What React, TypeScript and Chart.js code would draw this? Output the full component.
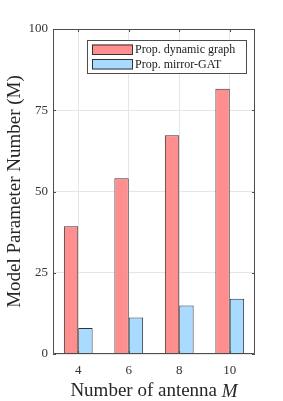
import React, { useEffect, useRef } from "react";
import { Chart, registerables } from "chart.js";

Chart.register(...registerables);

const categories = ["4", "6", "8", "10"];
const dynamicGraph = [39.3, 54.1, 67.3, 81.6];
const mirrorGAT = [8.0, 11.2, 14.9, 17.0];
const seriesLabels = ["Prop. dynamic graph", "Prop. mirror-GAT"];
const yTicks = [0, 25, 50, 75, 100];

const FONT = "'Liberation Serif', 'Times New Roman', 'DejaVu Serif', serif";
const RED = "#ff8f8f";
const BLUE = "#a9daff";
const EDGE = "#333333";
const AXIS = "#4d4d4d";

const boxPlugin = {
  id: "matlabBox",
  afterDatasetsDraw(chart: any) {
    const { ctx, chartArea: a, scales } = chart;
    ctx.save();
    ctx.strokeStyle = AXIS;
    ctx.lineWidth = 1;
    ctx.beginPath();
    ctx.rect(a.left + 0.5, a.top + 0.5, a.right - a.left - 1, a.bottom - a.top - 1);
    ctx.stroke();
    const tl = 3;
    ctx.beginPath();
    scales.y.ticks.forEach((t: any) => {
      const y = Math.round(scales.y.getPixelForValue(t.value)) + 0.5;
      ctx.moveTo(a.left, y);
      ctx.lineTo(a.left + tl, y);
      ctx.moveTo(a.right, y);
      ctx.lineTo(a.right - tl, y);
    });
    categories.forEach((_, i) => {
      const x = Math.round(scales.x.getPixelForValue(i)) + 0.5;
      ctx.moveTo(x, a.bottom);
      ctx.lineTo(x, a.bottom - tl);
      ctx.moveTo(x, a.top);
      ctx.lineTo(x, a.top + tl);
    });
    ctx.stroke();

    // legend inside the axes
    const bw = 160, bh = 34;
    const bx = a.right - 8 - bw;
    const by = a.top + 11;
    ctx.fillStyle = "#ffffff";
    ctx.fillRect(bx, by, bw, bh);
    ctx.strokeStyle = "#4d4d4d";
    ctx.strokeRect(bx + 0.5, by + 0.5, bw - 1, bh - 1);
    const colors = [RED, BLUE];
    ctx.font = `12px ${FONT}`;
    ctx.textBaseline = "middle";
    ctx.textAlign = "left";
    seriesLabels.forEach((lab, i) => {
      const sy = by + 4.5 + i * 14.5;
      ctx.fillStyle = colors[i];
      ctx.fillRect(bx + 5, sy, 41, 10.5);
      ctx.strokeStyle = EDGE;
      ctx.strokeRect(bx + 5.5, sy + 0.5, 40, 9.5);
      ctx.fillStyle = "#1a1a1a";
      ctx.fillText(lab, bx + 48, sy + 5.5);
    });

    // x axis title with italic M
    ctx.fillStyle = "#262626";
    ctx.textBaseline = "middle";
    const normal = `19px ${FONT}`;
    const italic = `italic 19px ${FONT}`;
    const t1 = "Number of antenna ";
    const t2 = "M";
    ctx.font = normal;
    const w1 = ctx.measureText(t1).width;
    ctx.font = italic;
    const w2 = ctx.measureText(t2).width;
    const cx = (a.left + a.right) / 2;
    const x0 = cx - (w1 + w2) / 2;
    const ty = 391.5;
    ctx.font = normal;
    ctx.fillText(t1, x0, ty);
    ctx.font = italic;
    ctx.fillText(t2, x0 + w1, ty);
    ctx.restore();
  },
};

export default function App() {
  const ref = useRef<HTMLCanvasElement>(null);
  useEffect(() => {
    document.body.style.margin = "0";
    const chart = new Chart(ref.current!, {
      type: "bar",
      data: {
        labels: categories,
        datasets: [
          {
            label: seriesLabels[0],
            data: dynamicGraph,
            backgroundColor: RED,
            borderColor: EDGE,
            borderWidth: 1,
            categoryPercentage: 0.57,
            barPercentage: 1,
          },
          {
            label: seriesLabels[1],
            data: mirrorGAT,
            backgroundColor: BLUE,
            borderColor: EDGE,
            borderWidth: 1,
            categoryPercentage: 0.57,
            barPercentage: 1,
          },
        ],
      },
      options: {
        animation: false,
        responsive: false,
        maintainAspectRatio: false,
        layout: { padding: { top: 29, right: 28, left: 0, bottom: 0 } },
        plugins: { legend: { display: false }, tooltip: { enabled: false } },
        scales: {
          x: {
            grid: { offset: false, color: "#e6e6e6", drawTicks: false },
            border: { display: false },
            ticks: {
              font: { family: FONT, size: 13 },
              color: "#333333",
              padding: 9,
              maxRotation: 0,
            },
            afterFit: (s: any) => {
              s.height = 47;
            },
          },
          y: {
            min: 0,
            max: 100,
            afterBuildTicks: (s: any) => {
              s.ticks = yTicks.map((v) => ({ value: v }));
            },
            grid: { color: "#e6e6e6", drawTicks: false },
            border: { display: false },
            ticks: {
              font: { family: FONT, size: 13 },
              color: "#333333",
              padding: 5,
            },
            title: {
              display: true,
              text: "Model Parameter Number (M)",
              font: { family: FONT, size: 19, lineHeight: 1 },
              color: "#262626",
              padding: { top: 5.5, bottom: 0 },
            },
            afterFit: (s: any) => {
              s.width = 53;
            },
          },
        },
      },
      plugins: [boxPlugin],
    });
    return () => chart.destroy();
  }, []);
  return (
    <div style={{ position: "absolute", left: 0, top: 0, width: 283, height: 401, background: "#fff" }}>
      <canvas ref={ref} width={283} height={401} style={{ width: 283, height: 401 }} />
    </div>
  );
}
